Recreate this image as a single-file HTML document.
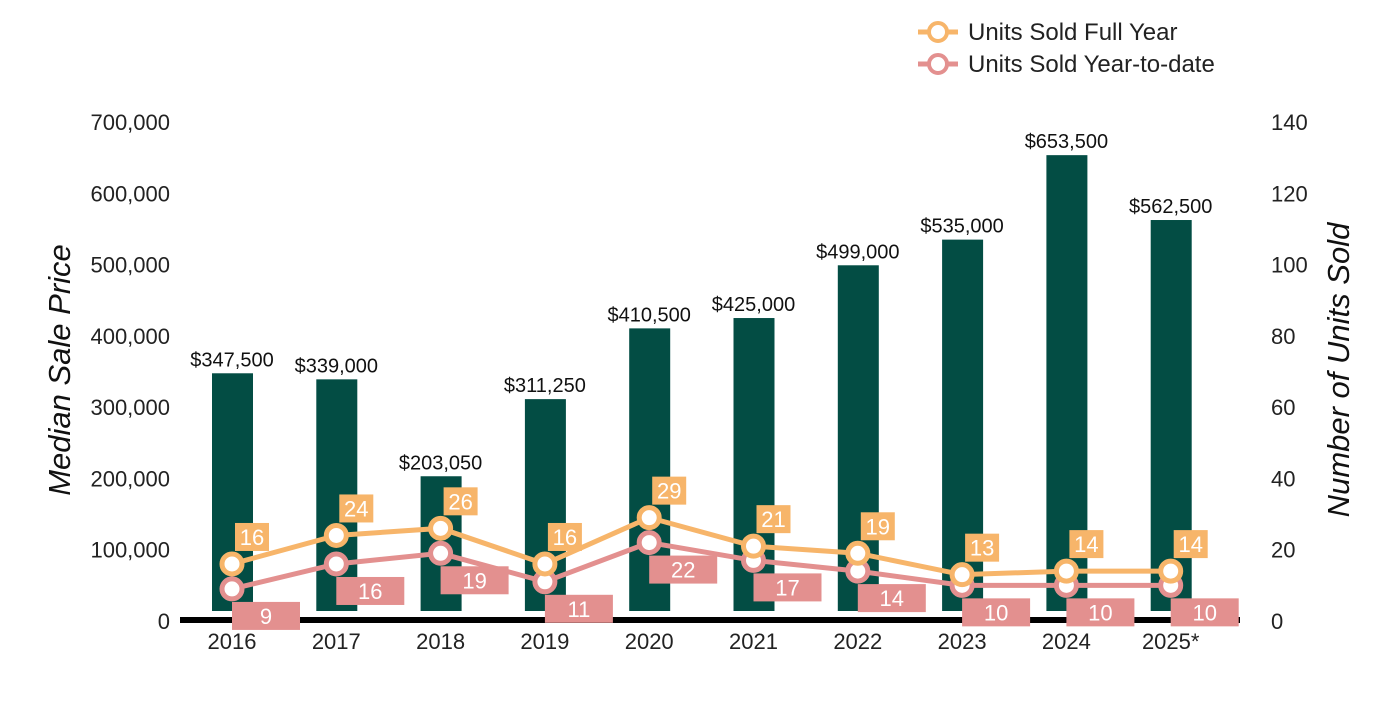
<!DOCTYPE html>
<html><head><meta charset="utf-8"><style>
body{margin:0;background:#fff;font-family:"Liberation Sans",sans-serif}
svg text{font-family:"Liberation Sans",sans-serif}
</style></head><body>
<svg id="c" width="1400" height="700" xmlns="http://www.w3.org/2000/svg">
<g id="legend">
 <g>
  <line x1="918" y1="32" x2="958" y2="32" stroke="#f7b56a" stroke-width="5"/>
  <circle cx="938" cy="32" r="9" fill="#fff" stroke="#f7b56a" stroke-width="4"/>
  <text x="968" y="40" font-size="24" fill="#222">Units Sold Full Year</text>
 </g>
 <g>
  <line x1="918" y1="64" x2="958" y2="64" stroke="#e3908f" stroke-width="5"/>
  <circle cx="938" cy="64" r="9" fill="#fff" stroke="#e3908f" stroke-width="4"/>
  <text x="968" y="72" font-size="24" fill="#222">Units Sold Year-to-date</text>
 </g>
</g>
<text transform="translate(70,370) rotate(-90)" text-anchor="middle" font-size="31" font-style="italic" fill="#111">Median Sale Price</text>
<text transform="translate(1349,370) rotate(-90)" text-anchor="middle" font-size="31" font-style="italic" fill="#111">Number of Units Sold</text>
<g id="plot"></g>
</svg>
<script>
const categories=["2016","2017","2018","2019","2020","2021","2022","2023","2024","2025*"];
const prices=[347500,339000,203050,311250,410500,425000,499000,535000,653500,562500];
const priceLabels=["$347,500","$339,000","$203,050","$311,250","$410,500","$425,000","$499,000","$535,000","$653,500","$562,500"];
const fullYear=[16,24,26,16,29,21,19,13,14,14];
const ytd=[9,16,19,11,22,17,14,10,10,10];
const leftTicks=[0,100000,200000,300000,400000,500000,600000,700000];
const rightTicks=[0,20,40,60,80,100,120,140];
const NS="http://www.w3.org/2000/svg";
const g=document.getElementById('plot');
const y0=621,yTop=122;
const yL=v=>y0-(v/700000)*(y0-yTop);
const yR=v=>y0-(v/140)*(y0-yTop);
const xC=i=>232+i*104.3;
function mk(t,a,txt){const e=document.createElementNS(NS,t);for(const k in a)e.setAttribute(k,a[k]);if(txt!==undefined)e.textContent=txt;g.appendChild(e);return e;}
leftTicks.forEach(v=>{const e=mk('text',{x:170,y:yL(v)+8,'text-anchor':'end','font-size':22,fill:'#222'},v.toLocaleString('en-US'));

});
rightTicks.forEach(v=>{const e=mk('text',{x:1271,y:yR(v)+8,'font-size':22,fill:'#222'},String(v));

});
prices.forEach((v,i)=>{const top=yL(v);
const b=mk('rect',{x:xC(i)-20,y:top,width:41,height:611-top,fill:'#034d44'});


const t=mk('text',{x:xC(i),y:top-7,'text-anchor':'middle','font-size':20,fill:'#111'},priceLabels[i]);


const c=mk('text',{x:xC(i),y:649,'text-anchor':'middle','font-size':22,fill:'#222'},categories[i]);

});
const ax=mk('line',{x1:180,y1:620,x2:1240,y2:620,stroke:'#000','stroke-width':6});


function series(vals,color,name,above){
 const pts=vals.map((v,i)=>xC(i)+','+yR(v)).join(' ');
 const l=mk('polyline',{points:pts,fill:'none',stroke:color,'stroke-width':5});
 
 
 vals.forEach((v,i)=>{const cx=xC(i),cy=yR(v);
  const c=mk('circle',{cx:cx,cy:cy,r:10,fill:'#fff',stroke:color,'stroke-width':5});
  
  
  const w=above?34:68,h=28,bx=above?cx+3:cx,by=above?cy-41:cy+13;
  const r=mk('rect',{x:bx,y:by,width:w,height:h,fill:color});
  
  
  const t=mk('text',{x:bx+w/2,y:by+22,'text-anchor':'middle','font-size':22,fill:'#fff'},String(v));
  
  });
}
series(ytd,'#e3908f','ytd',false);
series(fullYear,'#f7b56a','full-year',true);
</script>
</body></html>
